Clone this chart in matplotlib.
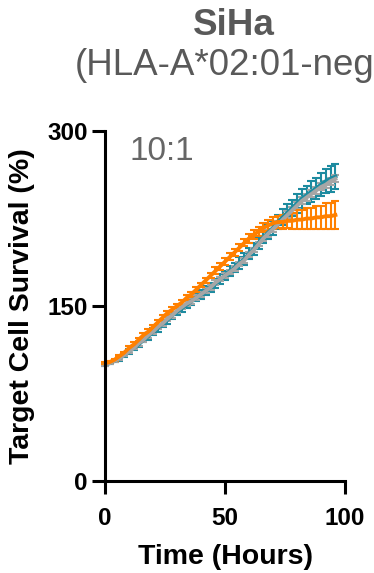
import matplotlib
matplotlib.use("Agg")
import matplotlib.pyplot as plt

plt.rcParams['font.family'] = ['Liberation Sans', 'DejaVu Sans']

hours = list(range(0, 97, 2))

orange_mean = [101, 102, 104, 107, 110, 114, 117, 121, 125, 128, 132, 136, 140,
               144, 147, 150, 153, 157, 160, 164, 168, 172, 176, 180, 184, 188,
               192, 196, 200, 204, 208, 211, 214, 217, 219, 221, 222, 222, 223,
               223, 224, 224, 225, 225, 226, 226, 227, 227, 228]
orange_err = [1, 1, 1, 1, 1, 2, 2, 2, 2, 2, 2, 2, 2, 2, 2, 2, 2, 2, 2, 2, 2, 2,
              2, 3, 3, 3, 3, 3, 3, 3, 4, 4, 4, 4, 5, 5, 5, 6, 6, 7, 8, 8, 9, 9,
              10, 10, 11, 11, 12]

grey_mean = [100, 101, 103, 105, 108, 111, 114, 118, 121, 125, 128, 132, 135,
             139, 142, 146, 149, 152, 154, 157, 160, 163, 166, 170, 173, 176,
             179, 182, 186, 189, 194, 198, 203, 208, 212, 216, 220, 224, 228,
             232, 236, 240, 243, 246, 249, 252, 254, 257, 259]
grey_err = [1, 1, 1, 1, 1, 1, 1, 2, 2, 2, 2, 2, 2, 2, 2, 2, 2, 2, 2, 2, 2, 2,
            2, 2, 2, 2, 2, 2, 2, 2, 2, 2, 2, 2, 3, 3, 3, 3, 3, 3, 3, 3, 3, 3,
            3, 3, 3, 3, 3]

teal_mean = [100, 101, 103, 105, 108, 111, 114, 117, 121, 124, 128, 131, 135,
             138, 142, 145, 148, 151, 154, 157, 160, 163, 166, 169, 173, 176,
             180, 183, 187, 190, 195, 199, 204, 209, 213, 217, 222, 226, 230,
             234, 238, 242, 245, 248, 251, 254, 257, 259, 261]
teal_err = [1, 1, 1, 2, 2, 2, 2, 2, 2, 3, 3, 3, 3, 3, 3, 3, 3, 3, 3, 3, 4, 4,
            4, 4, 4, 4, 4, 4, 5, 5, 5, 5, 5, 5, 6, 6, 6, 7, 7, 7, 8, 8, 8, 9,
            9, 10, 10, 11, 11]

x_ticks = [0, 50, 100]
y_ticks = [0, 150, 300]

title = "SiHa"
subtitle = "(HLA-A*02:01-negative)"
ratio_label = "10:1"
x_label = "Time (Hours)"
y_label = "Target Cell Survival (%)"

W, H = 374, 573
fig = plt.figure(figsize=(W / 100, H / 100), dpi=100)
ax = fig.add_axes([105 / W, 1 - 481 / H, 240 / W, 350 / H])

series = [(teal_mean, teal_err, "#1d8ba0"),
          (grey_mean, grey_err, "#a6a6a6"),
          (orange_mean, orange_err, "#ff8000")]
for mean, err, col in series:
    ax.errorbar(hours, mean, yerr=err, color=col, lw=2.8, elinewidth=1.5,
                capsize=3, capthick=1.5, clip_on=False)

ax.set_xlim(0, 100)
ax.set_ylim(0, 300)
ax.set_xticks(x_ticks)
ax.set_yticks(y_ticks)
for s in ["top", "right"]:
    ax.spines[s].set_visible(False)
for s in ["left", "bottom"]:
    ax.spines[s].set_linewidth(2.2)
ax.tick_params(axis="both", width=2.2, length=9.5, labelsize=17.5)
ax.tick_params(axis="x", pad=9)
ax.tick_params(axis="y", pad=3)
for lab in ax.get_xticklabels() + ax.get_yticklabels():
    lab.set_fontweight("bold")
ax.set_xlabel(x_label, fontsize=20.5, fontweight="bold", labelpad=10)
ax.set_ylabel(y_label, fontsize=20.5, fontweight="bold", labelpad=9)

ax.text(10, 296, ratio_label, fontsize=24, color="#666666", va="top", ha="left")

fig.text(234 / W, 1 - 8 / H, title, fontsize=26.5, fontweight="bold",
         color="#595959", ha="center", va="top")
fig.text(75 / W, 1 - 48 / H, subtitle, fontsize=26.5, color="#595959",
         ha="left", va="top")

fig.savefig("out.png", dpi=100)
